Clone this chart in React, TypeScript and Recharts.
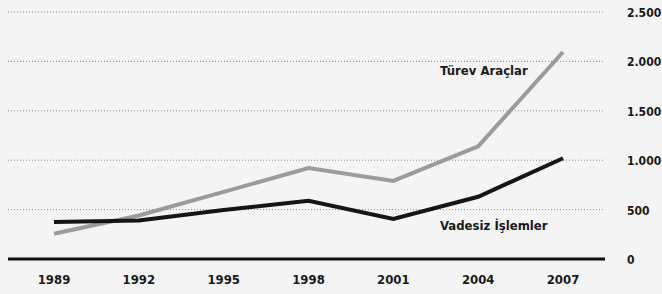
import React from 'react';
import {
  LineChart,
  Line,
  XAxis,
  YAxis,
  CartesianGrid,
  ReferenceLine,
} from 'recharts';

const years = ['1989', '1992', '1995', '1998', '2001', '2004', '2007'];
const turevAraclar = [255, 440, 680, 920, 790, 1140, 2095];
const vadesizIslemler = [375, 390, 495, 590, 405, 630, 1020];
const yTicks = [0, 500, 1000, 1500, 2000, 2500];

const FONT = '"DejaVu Sans Condensed", "DejaVu Sans", sans-serif';

const formatTick = (v: number) => v.toLocaleString('tr-TR');

// y labels sit left-aligned a little to the right of the plot
const YTick = (props: any) => {
  const { x, y, payload } = props;
  return (
    <text
      x={x + 14}
      y={y}
      dy={5}
      textAnchor="start"
      fill="#1a1a1a"
      fontFamily={FONT}
      fontWeight={700}
      fontSize={12}
    >
      {formatTick(payload.value)}
    </text>
  );
};

export default function App() {
  const data = years.map((year, i) => ({
    year,
    turev: turevAraclar[i],
    vadesiz: vadesizIslemler[i],
  }));

  return (
    <div
      style={{
        position: 'absolute',
        left: 0,
        top: 0,
        width: 662,
        height: 294,
        background: '#f4f4f4',
      }}
    >
      <LineChart
        width={662}
        height={294}
        data={data}
        margin={{ top: 12, right: 0, left: 8, bottom: 5 }}
      >
        <CartesianGrid
          horizontal
          vertical={false}
          stroke="#8a8a8a"
          strokeDasharray="1 2"
          horizontalValues={[500, 1000, 1500, 2000, 2500]}
        />
        <XAxis
          dataKey="year"
          padding={{ left: 46, right: 42 }}
          axisLine={false}
          tickLine={false}
          height={30}
          tickMargin={10}
          tick={{ fill: '#1a1a1a', fontFamily: FONT, fontWeight: 700, fontSize: 13 }}
        />
        <YAxis
          orientation="right"
          domain={[0, 2500]}
          ticks={yTicks}
          axisLine={false}
          tickLine={false}
          width={57}
          tick={<YTick />}
        />
        <ReferenceLine y={0} stroke="#111" strokeWidth={3} />
        <Line
          dataKey="turev"
          stroke="#9b9b9b"
          strokeWidth={4}
          dot={false}
          isAnimationActive={false}
          type="linear"
        />
        <Line
          dataKey="vadesiz"
          stroke="#151515"
          strokeWidth={4}
          dot={false}
          isAnimationActive={false}
          type="linear"
        />
      </LineChart>
      <div
        style={{
          position: 'absolute',
          left: 440,
          top: 63,
          fontFamily: FONT,
          fontWeight: 700,
          fontSize: 13,
          color: '#1a1a1a',
          whiteSpace: 'nowrap',
        }}
      >
        Türev Araçlar
      </div>
      <div
        style={{
          position: 'absolute',
          left: 440,
          top: 218,
          fontFamily: FONT,
          fontWeight: 700,
          fontSize: 13,
          color: '#1a1a1a',
          whiteSpace: 'nowrap',
        }}
      >
        Vadesiz İşlemler
      </div>
    </div>
  );
}
